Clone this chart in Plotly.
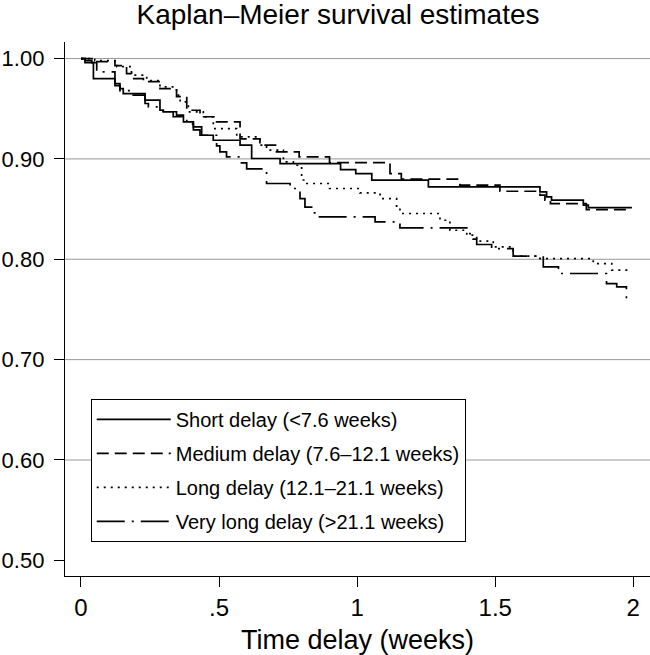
import plotly.graph_objects as go

# ---- data ----
SHORT_T = [0, 0.015, 0.039, 0.045, 0.123, 0.141, 0.153, 0.232, 0.286, 0.298, 0.346, 0.371, 0.407,
           0.437, 0.479, 0.576, 0.618, 0.721, 0.940, 0.995, 1.053, 1.258, 1.662, 1.686, 1.704,
           1.819, 1.837, 1.995]
SHORT_S = [1.0, 0.998, 0.996, 0.980, 0.973, 0.970, 0.965, 0.9585, 0.9485, 0.947, 0.9436, 0.937,
           0.932, 0.9236, 0.9186, 0.9137, 0.9004, 0.8954, 0.8894, 0.8854, 0.8788, 0.8722, 0.8672,
           0.8622, 0.8589, 0.8539, 0.8515, 0.8515]

MEDIUM_T = [0, 0.045, 0.123, 0.165, 0.183, 0.226, 0.286, 0.346, 0.383, 0.431, 0.491, 0.576,
            0.648, 0.708, 0.790, 0.900, 1.119, 1.160, 1.372, 1.517, 1.662, 1.680, 1.700, 1.830,
            1.985]
MEDIUM_S = [1.0, 0.997, 0.993, 0.985, 0.980, 0.977, 0.970, 0.962, 0.9485, 0.942, 0.937, 0.920,
            0.9137, 0.907, 0.902, 0.8964, 0.8854, 0.8798, 0.8738, 0.8678, 0.864, 0.859, 0.8555,
            0.8495, 0.8495]

LONG_T = [0, 0.050, 0.130, 0.183, 0.238, 0.286, 0.346, 0.359, 0.389, 0.443, 0.479, 0.564, 0.648,
          0.672, 0.733, 0.769, 0.799, 0.812, 0.900, 1.010, 1.083, 1.143, 1.155, 1.300, 1.336,
          1.397, 1.433, 1.493, 1.565, 1.662, 1.855, 1.922, 1.990]
LONG_S = [1.0, 0.998, 0.992, 0.9834, 0.978, 0.9717, 0.9635, 0.9568, 0.9469, 0.9419, 0.9302,
          0.922, 0.9137, 0.9087, 0.897, 0.8937, 0.879, 0.8755, 0.8705, 0.8662, 0.8605, 0.8506,
          0.8456, 0.8389, 0.8289, 0.824, 0.818, 0.8124, 0.8031, 0.8007, 0.7957, 0.7891, 0.7891]

VLONG_T = [0, 0.0145, 0.057, 0.123, 0.141, 0.178, 0.232, 0.244, 0.286, 0.298, 0.334, 0.383,
           0.407, 0.431, 0.491, 0.503, 0.527, 0.576, 0.600, 0.672, 0.757, 0.793, 0.811, 0.841,
           0.860, 1.065, 1.155, 1.397, 1.420, 1.433, 1.487, 1.565, 1.674, 1.729, 1.903, 1.940,
           1.975, 1.995]
VLONG_S = [1.0, 0.996, 0.9867, 0.9751, 0.968, 0.9635, 0.9552, 0.9519, 0.9485, 0.947, 0.942,
           0.935, 0.929, 0.9236, 0.913, 0.907, 0.902, 0.896, 0.890, 0.8755, 0.8705, 0.8605,
           0.852, 0.8462, 0.8422, 0.8372, 0.8312, 0.8256, 0.820, 0.8147, 0.8107, 0.8031, 0.7924,
           0.7858, 0.7758, 0.7725, 0.760, 0.760]

SERIES_NAMES = ["Short delay (<7.6 weeks)", "Medium delay (7.6\u201312.1 weeks)",
                "Long delay (12.1\u201321.1 weeks)", "Very long delay (>21.1 weeks)"]
Y_TICKS = [0.5, 0.6, 0.7, 0.8, 0.9, 1.0]
Y_TICK_LABELS = ["0.50", "0.60", "0.70", "0.80", "0.90", "1.00"]
GRID_VALUES = [0.6, 0.7, 0.8, 0.9, 1.0]
X_TICKS = [0, 0.5, 1, 1.5, 2]
X_TICK_LABELS = ["0", ".5", "1", "1.5", "2"]

TITLE = "Kaplan\u2013Meier survival estimates"
X_TITLE = "Time delay (weeks)"

FONT = "Liberation Sans, Arial, Helvetica, sans-serif"
DASHES = ["solid", "12px,6px", "2px,5px", "28px,7px,2px,7px"]

fig = go.Figure()
series = [(SHORT_T, SHORT_S), (MEDIUM_T, MEDIUM_S), (LONG_T, LONG_S), (VLONG_T, VLONG_S)]
for i, ((t, s), name) in enumerate(zip(series, SERIES_NAMES)):
    fig.add_trace(go.Scatter(
        x=t, y=s, mode="lines", name=name, legendgroup=f"g{i}",
        line=dict(color="black", width=1.7, dash=DASHES[i], shape="hv"),
    ))

for v in GRID_VALUES:
    fig.add_hline(y=v, line=dict(color="#999999", width=1), layer="below")

fig.update_layout(
    width=650, height=655,
    margin=dict(l=65, r=0, t=42, b=79, autoexpand=False),
    paper_bgcolor="white", plot_bgcolor="white",
    font=dict(family=FONT, color="black"),
    title=dict(text=TITLE, x=0.52, xanchor="center", xref="container", y=1 - 14 / 655,
               yref="container", yanchor="middle", font=dict(size=28, family=FONT, color="black")),
    showlegend=True,
    legend=dict(x=0.044, y=0.064, xanchor="left", yanchor="bottom",
                bordercolor="black", borderwidth=1, bgcolor="white",
                font=dict(size=20, family=FONT, color="black"),
                tracegroupgap=5, itemwidth=74),
    xaxis=dict(range=[-0.0579, 2.0605], tickvals=X_TICKS, ticktext=X_TICK_LABELS,
               automargin=False,
               showgrid=False, zeroline=False, showline=True, linecolor="black", linewidth=1.3,
               ticks="outside", ticklen=10, tickwidth=1.3, tickcolor="black",
               tickfont=dict(size=24, family=FONT, color="black"),
               title=dict(text=X_TITLE, font=dict(size=27, family=FONT, color="black"), standoff=10)),
    yaxis=dict(range=[0.4844, 1.0165], tickvals=Y_TICKS, ticktext=Y_TICK_LABELS,
               automargin=False, ticklabelstandoff=5,
               showgrid=False, zeroline=False, showline=True, linecolor="black", linewidth=1.3,
               ticks="outside", ticklen=10, tickwidth=1.3, tickcolor="black",
               tickfont=dict(size=22, family=FONT, color="black")),
)

fig.write_html("out.html", config={"displayModeBar": False})

# remove the browser's default 8px body margin so the figure sits at the page origin
with open("out.html", "r", encoding="utf-8") as f:
    html = f.read()
html = html.replace("<body>", '<body style="margin:0;padding:0;">', 1)
with open("out.html", "w", encoding="utf-8") as f:
    f.write(html)
